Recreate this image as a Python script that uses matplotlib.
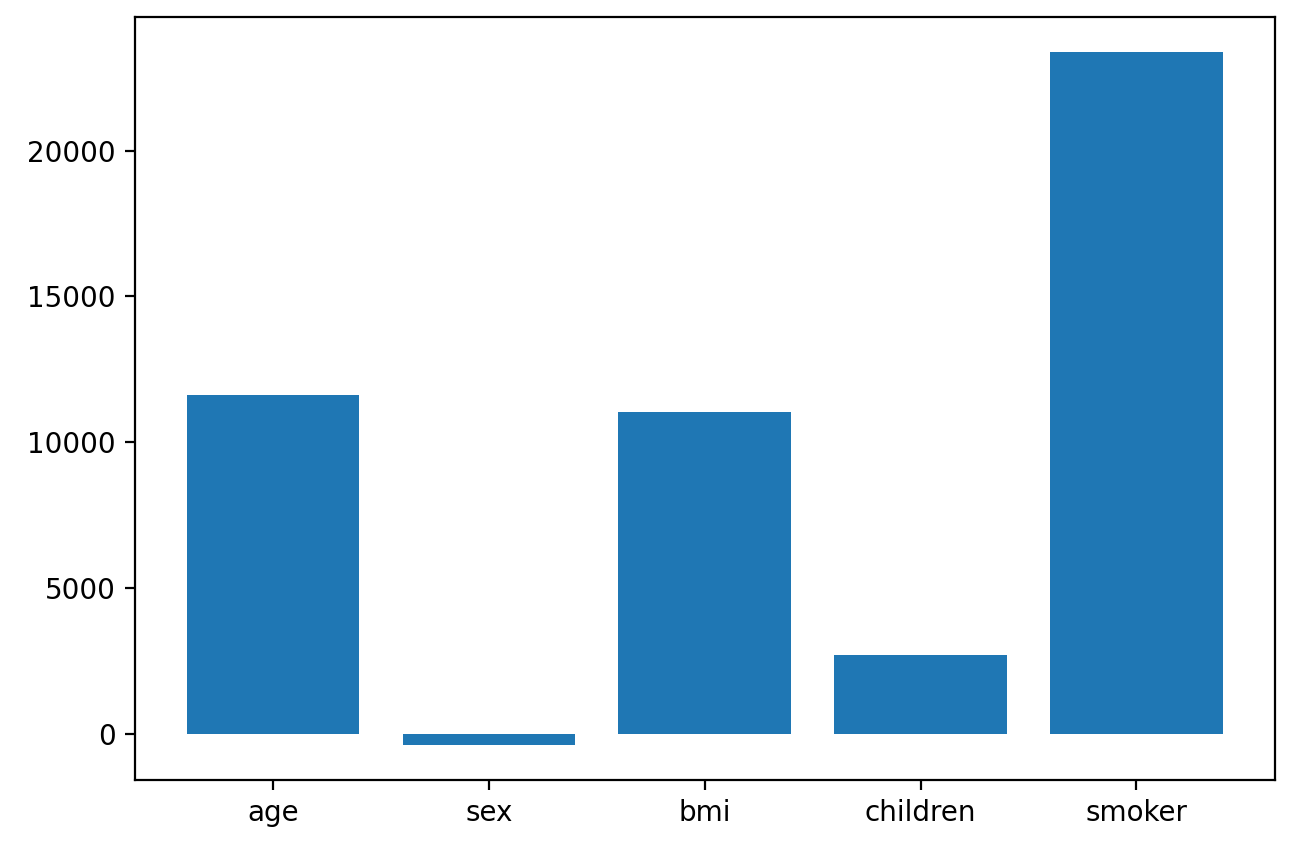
import matplotlib
matplotlib.use("Agg")
import matplotlib.pyplot as plt

features = ["age", "sex", "bmi", "children", "smoker"]
values = [11615, -400, 11030, 2715, 23400]

fig = plt.figure(figsize=(6.49, 4.23), dpi=200)
ax = fig.add_axes([0.104, 0.078, 0.878, 0.902])
ax.bar(features, values, color="#1f77b4")
fig.savefig("out.png", dpi=200)
